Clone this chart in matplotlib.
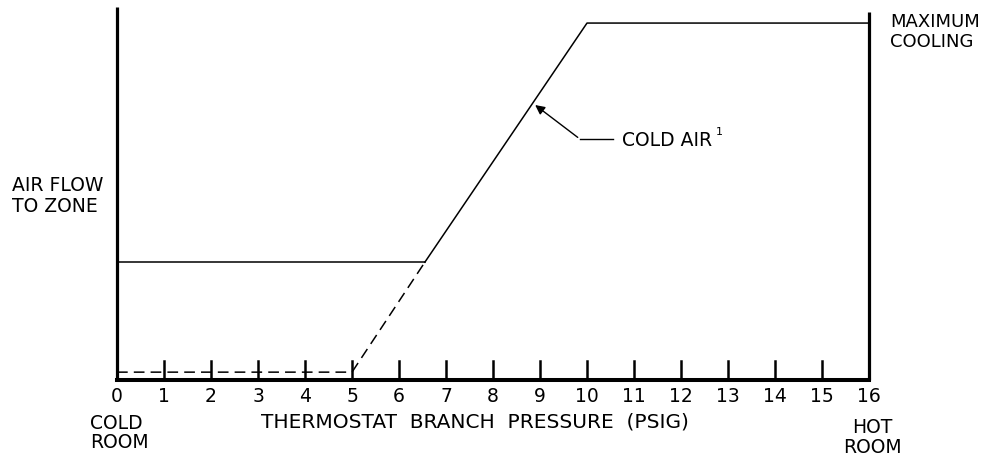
# Air flow vs thermostat branch pressure (cold air damper schedule)
import matplotlib.pyplot as plt

# pressure ticks (psig)
ticks = list(range(0, 17))

# solid schedule: minimum flow, then cold air ramp up to maximum cooling
min_x = [0, 6.55]
min_y = [33, 33]
ramp_x = [6.55, 10, 16]
ramp_y = [33, 100, 100]

# dashed part: zero flow up to 5 psig then ramp
dash_x = [0, 5, 6.55]
dash_y = [2.2, 2.2, 33]

W, H = 993, 460
fig = plt.figure(figsize=(W / 100, H / 100), dpi=100)
fig.patch.set_facecolor('white')

left, right, bottom, top = 117, 869, 381, 8
ax = fig.add_axes([left / W, (H - bottom) / H, (right - left) / W, (bottom - top) / H])
ax.set_xlim(0, 16)
ax.set_ylim(0, 104.5)
ax.axis('off')

lw_axis = 2.3
lw_line = 1.1
# axes frame (left, bottom, right)
ax.plot([0, 0], [0, 104.5], color='black', lw=lw_axis, clip_on=False, solid_capstyle='butt')
ax.plot([0, 16], [0, 0], color='black', lw=lw_axis + 0.6, clip_on=False, solid_capstyle='projecting')
ax.plot([16, 16], [0, 103], color='black', lw=lw_axis, clip_on=False, solid_capstyle='butt')

# tick marks
for t in ticks[1:-1]:
    ax.plot([t, t], [0, 5.2], color='black', lw=1.8, clip_on=False)

# curves
ax.plot(min_x, min_y, color='black', lw=lw_line)
ax.plot(ramp_x, ramp_y, color='black', lw=lw_line, clip_on=False)
ax.plot(dash_x, dash_y, color='black', lw=lw_line, linestyle=(0, (7, 4)))

fs = 13.5
for t in ticks:
    ax.text(t, -4.3, str(t), ha='center', va='center', fontsize=fs)

ax.text(-0.58, -14.6, 'COLD\nROOM', ha='left', va='center', fontsize=fs, linespacing=1.0)
ax.text(16.08, -15.8, 'HOT\nROOM', ha='center', va='center', fontsize=fs, linespacing=1.05)
ax.text(3.07, -11.6, 'THERMOSTAT  BRANCH  PRESSURE  (PSIG)', ha='left', va='center',
        fontsize=14.5)
ax.text(-2.23, 51.8, 'AIR FLOW\nTO ZONE', ha='left', va='center', fontsize=fs, linespacing=1.15)
ax.text(16.45, 97.8, 'MAXIMUM\nCOOLING', ha='left', va='center', fontsize=13, linespacing=1.1)

# cold air callout
tip_x = 8.85
tip_y = dash_y[1] + (tip_x - 5) * (100 - dash_y[1]) / 5
ax.annotate('', xy=(tip_x, tip_y), xytext=(9.85, 67.5),
            arrowprops=dict(arrowstyle='-|>', color='black', lw=1.0, mutation_scale=14))
ax.plot([9.85, 10.55], [67.5, 67.5], color='black', lw=1.0)
ax.text(10.75, 67.5, 'COLD AIR', ha='left', va='center', fontsize=fs)
ax.text(12.75, 69.8, '1', ha='left', va='center', fontsize=8)

fig.savefig('out.png', dpi=100)
